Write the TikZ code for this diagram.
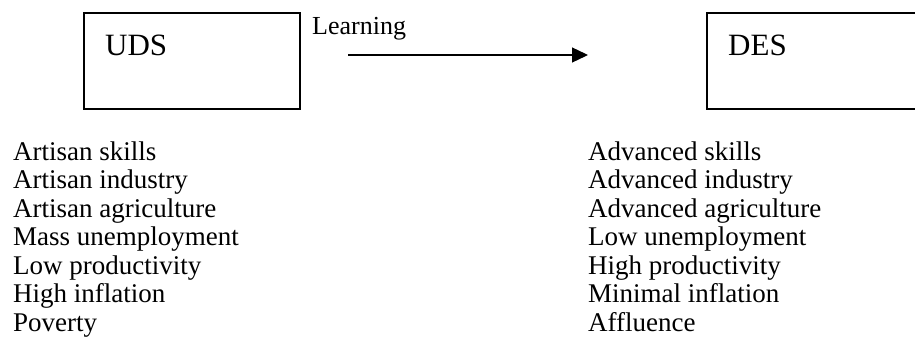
\documentclass[tikz,border=0pt]{standalone}
\usepackage{fontspec}
\setmainfont{Liberation Serif}
\usetikzlibrary{arrows.meta}
\begin{document}
\begin{tikzpicture}[x=1pt,y=-1pt,
  box/.style={draw,line width=1.8pt,minimum width=216pt,minimum height=96pt,anchor=north west,outer sep=0pt,inner sep=0pt},
  head/.style={anchor=base west,inner sep=0pt,font=\fontsize{31}{36}\selectfont},
  item/.style={anchor=base west,inner sep=0pt,font=\fontsize{27}{31}\selectfont},
  lbl/.style={anchor=base west,inner sep=0pt,font=\fontsize{26}{30}\selectfont},
  flow/.style={line width=1.3pt,-{Triangle[length=16pt,width=15pt]}}]
\useasboundingbox (0,0) rectangle (915,345);
\clip (0,0) rectangle (915,345);
\node[box] (uds) at (84,13) {};
\node[head] (udst) at (105,56) {UDS};
\node[box,minimum width=240pt] (des) at (707,13) {};
\node[head] (dest) at (728,56) {DES};
\node[lbl] (learn) at (312,35) {Learning};
\coordinate (a0) at (348,55);
\coordinate (a1) at (588,55);
\draw[flow] (a0) -- (a1);
\foreach \t [count=\i] in {Artisan skills,Artisan industry,Artisan agriculture,Mass unemployment,Low productivity,High inflation,Poverty}
  \node[item] (l\i) at (13,{160+(\i-1)*28.5}) {\t};
\foreach \t [count=\i] in {Advanced skills,Advanced industry,Advanced agriculture,Low unemployment,High productivity,Minimal inflation,Affluence}
  \node[item] (r\i) at (588,{160+(\i-1)*28.5}) {\t};
\end{tikzpicture}
\end{document}
